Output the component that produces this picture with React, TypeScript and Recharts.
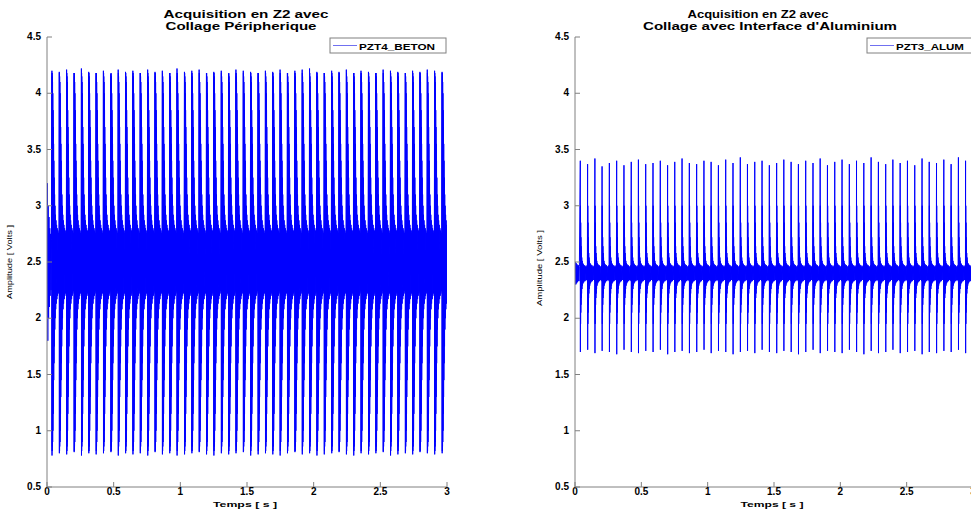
import { LineChart, Line, XAxis, YAxis } from "recharts";

// ---- data ----
const xTicks = [0, 0.5, 1, 1.5, 2, 2.5, 3];
const yTicks = [0.5, 1, 1.5, 2, 2.5, 3, 3.5, 4, 4.5];

// left panel: PZT4_BETON
const betonPulseT = [
  0.037, 0.092, 0.147, 0.203, 0.258, 0.313, 0.368, 0.423, 0.479, 0.534,
  0.589, 0.644, 0.699, 0.755, 0.81, 0.865, 0.92, 0.975, 1.031, 1.086,
  1.141, 1.196, 1.251, 1.307, 1.362, 1.417, 1.472, 1.527, 1.583, 1.638,
  1.693, 1.748, 1.803, 1.859, 1.914, 1.969, 2.024, 2.079, 2.135, 2.19,
  2.245, 2.3, 2.355, 2.411, 2.466, 2.521, 2.576, 2.631, 2.687, 2.742,
  2.797, 2.852, 2.907, 2.963,
];
const betonHigh = [
  4.2, 4.19, 4.21, 4.18, 4.22, 4.19, 4.18, 4.2, 4.17, 4.21,
  4.19, 4.2, 4.18, 4.21, 4.19, 4.2, 4.18, 4.22, 4.19, 4.2,
  4.21, 4.18, 4.19, 4.2, 4.17, 4.21, 4.2, 4.19, 4.18, 4.2,
  4.19, 4.21, 4.18, 4.2, 4.21, 4.22, 4.19, 4.18, 4.2, 4.19,
  4.21, 4.18, 4.2, 4.19, 4.18, 4.21, 4.2, 4.19, 4.18, 4.2,
  4.19, 4.21, 4.2, 4.19,
];
const betonLow = [
  0.78, 0.8, 0.79, 0.81, 0.78, 0.8, 0.79, 0.8, 0.81, 0.78,
  0.8, 0.79, 0.8, 0.78, 0.81, 0.79, 0.8, 0.78, 0.79, 0.8,
  0.81, 0.79, 0.78, 0.8, 0.79, 0.8, 0.81, 0.78, 0.79, 0.8,
  0.79, 0.78, 0.8, 0.81, 0.79, 0.8, 0.78, 0.79, 0.8, 0.81,
  0.79, 0.78, 0.8, 0.79, 0.8, 0.81, 0.78, 0.79, 0.8, 0.79,
  0.81, 0.8, 0.79, 0.8,
];
// ringing after each spike (ms after the spike, volts)
const betonRingMs = [
  0.7, 1.4, 2.1, 2.8, 3.5, 4.5, 5.5, 6.5, 7.5, 8.5, 9.5, 10.5, 11.5, 12.5, 13.5,
  14.5, 15.5, 17, 18.5, 20, 21.5, 23, 24.5, 26.5, 28.5, 30.5, 32.5, 35, 37.5, 40,
  42.5, 45, 47.5, 50, 52.5,
];
const betonRingV = [
  4.18, 0.82, 4.15, 0.86, 4.1, 0.9, 4.0, 1.0, 3.85, 1.15, 3.7, 1.3, 3.55, 1.45,
  3.4, 1.6, 3.25, 1.75, 3.1, 1.9, 3.0, 2.0, 2.92, 2.08, 2.87, 2.13, 2.83, 2.17,
  2.8, 2.2, 2.78, 2.22, 2.76, 2.24,
];
const betonLeadT = [0, 0.003, 0.006, 0.009, 0.012, 0.015, 0.018, 0.021, 0.024, 0.027, 0.03, 0.033];
const betonLeadV = [2.5, 3.2, 1.8, 3.0, 2.0, 2.9, 2.1, 2.8, 2.2, 2.75, 2.25, 2.7];

// right panel: PZT3_ALUM
const alumPulseT = [
  0.04, 0.095, 0.15, 0.204, 0.259, 0.314, 0.369, 0.424, 0.478, 0.533,
  0.588, 0.643, 0.698, 0.752, 0.807, 0.862, 0.917, 0.972, 1.026, 1.081,
  1.136, 1.191, 1.246, 1.3, 1.355, 1.41, 1.465, 1.52, 1.574, 1.629,
  1.684, 1.739, 1.794, 1.848, 1.903, 1.958, 2.013, 2.068, 2.122, 2.177,
  2.232, 2.287, 2.342, 2.396, 2.451, 2.506, 2.561, 2.616, 2.67, 2.725,
  2.78, 2.835, 2.89, 2.944,
];
const alumHigh = [
  3.4, 3.37, 3.42, 3.35, 3.38, 3.4, 3.36, 3.39, 3.41, 3.37,
  3.38, 3.4, 3.36, 3.39, 3.42, 3.38, 3.37, 3.4, 3.39, 3.36,
  3.41, 3.38, 3.43, 3.37, 3.39, 3.4, 3.36, 3.38, 3.41, 3.39,
  3.37, 3.4, 3.38, 3.42, 3.36, 3.39, 3.41, 3.37, 3.4, 3.38,
  3.43, 3.39, 3.37, 3.41, 3.38, 3.4, 3.36, 3.42, 3.39, 3.38,
  3.41, 3.37, 3.43, 3.4,
];
const alumLow = [
  1.7, 1.72, 1.69, 1.71, 1.7, 1.68, 1.72, 1.7, 1.69, 1.71,
  1.7, 1.72, 1.68, 1.7, 1.71, 1.69, 1.7, 1.72, 1.69, 1.71,
  1.7, 1.68, 1.7, 1.71, 1.69, 1.72, 1.7, 1.69, 1.71, 1.7,
  1.68, 1.7, 1.72, 1.69, 1.71, 1.7, 1.69, 1.72, 1.7, 1.68,
  1.71, 1.69, 1.7, 1.72, 1.69, 1.7, 1.71, 1.68, 1.7, 1.69,
  1.71, 1.7, 1.72, 1.69,
];
const alumRingMs = [0.6, 1.5, 2.2, 3, 3.8, 4.6, 5.4, 6.4, 7.4, 8.6, 9.8, 11.2, 12.6, 14.5, 16.5, 18.5, 21, 23.5, 26, 28.5, 31, 33.5, 36, 39, 42, 45, 48, 50.5, 53];
const alumRingV = [3.0, 1.95, 2.85, 2.05, 2.72, 2.12, 2.64, 2.18, 2.58, 2.22, 2.54, 2.26, 2.51, 2.29, 2.49, 2.31, 2.48, 2.32, 2.47, 2.33, 2.47, 2.33, 2.46, 2.34, 2.46, 2.34, 2.47, 2.33];
const alumLeadT = [0, 0.003, 0.006, 0.009, 0.012, 0.015, 0.018, 0.021, 0.024, 0.027, 0.03, 0.033];
const alumLeadV = [2.4, 2.5, 2.3, 2.49, 2.31, 2.48, 2.32, 2.47, 2.33, 2.47, 2.33, 2.46];

type Row = { t: number; v: number };

function buildRows(
  leadT: number[], leadV: number[],
  pulseT: number[], high: number[], low: number[],
  ringMs: number[], ringV: number[],
): Row[] {
  const rows: Row[] = leadT.map((t, i) => ({ t, v: leadV[i] }));
  pulseT.forEach((t, i) => {
    rows.push({ t, v: high[i] });
    rows.push({ t: t + ringMs[0] / 1000, v: low[i] });
    ringV.forEach((v, j) => rows.push({ t: t + ringMs[j + 1] / 1000, v }));
  });
  return rows;
}

const betonRows = buildRows(betonLeadT, betonLeadV, betonPulseT, betonHigh, betonLow, betonRingMs, betonRingV);
const alumRows = buildRows(alumLeadT, alumLeadV, alumPulseT, alumHigh, alumLow, alumRingMs, alumRingV);

const AX = "#808080";
const FONT = "'Liberation Sans', Arial, Helvetica, sans-serif";
const TICK = 5;

const BottomTick = (p: any) => (
  <g>
    <line x1={p.x} y1={p.y} x2={p.x} y2={p.y - TICK} stroke={AX} />
    <text x={p.x} y={p.y + 8} textAnchor="middle" fontSize={10} fontWeight="bold" fontFamily={FONT} fill="#000">
      {String(p.payload.value)}
    </text>
  </g>
);
const TopTick = (p: any) => <line x1={p.x} y1={p.y} x2={p.x} y2={p.y + TICK} stroke={AX} />;
const LeftTick = (p: any) => (
  <g>
    <line x1={p.x} y1={p.y} x2={p.x + TICK} y2={p.y} stroke={AX} />
    <text x={p.x - 6} y={p.y + 3} textAnchor="end" fontSize={10} fontWeight="bold" fontFamily={FONT} fill="#000">
      {String(p.payload.value)}
    </text>
  </g>
);
const RightTick = (p: any) => <line x1={p.x} y1={p.y} x2={p.x - TICK} y2={p.y} stroke={AX} />;

function Panel({ rows, left, width, marginLeft, marginRight }: { rows: Row[]; left: number; width: number; marginLeft: number; marginRight: number }) {
  return (
    <div style={{ position: "absolute", left, top: 0 }}>
      <LineChart width={width} height={509} data={rows} margin={{ top: 37, right: marginRight, bottom: 0, left: marginLeft }}>
        <XAxis xAxisId="b" dataKey="t" type="number" domain={[0, 3]} ticks={xTicks} allowDataOverflow interval={0}
          height={22} tickSize={0} tickMargin={0} tick={BottomTick} axisLine={{ stroke: AX }} />
        <XAxis xAxisId="t" orientation="top" type="number" domain={[0, 3]} ticks={xTicks} interval={0}
          height={0} tickSize={0} tickMargin={0} tick={TopTick} axisLine={{ stroke: AX }} />
        <YAxis yAxisId="l" type="number" domain={[0.5, 4.5]} ticks={yTicks} interval={0} allowDataOverflow
          width={40} tickSize={0} tickMargin={0} tick={LeftTick} axisLine={{ stroke: AX }} />
        <YAxis yAxisId="r" orientation="right" type="number" domain={[0.5, 4.5]} ticks={yTicks} interval={0}
          width={0} tickSize={0} tickMargin={0} tick={RightTick} axisLine={{ stroke: AX }} />
        <Line xAxisId="b" yAxisId="l" dataKey="v" type="linear" stroke="#0000ff" strokeWidth={1} dot={false} isAnimationActive={false} />
      </LineChart>
    </div>
  );
}

function Legend({ x, y, w, label, textLen }: { x: number; y: number; w: number; label: string; textLen: number }) {
  return (
    <g>
      <rect x={x} y={y} width={w} height={15} fill="#fff" stroke={AX} />
      <line x1={x + 3} y1={y + 7.5} x2={x + 27} y2={y + 7.5} stroke="#7070f0" strokeWidth={1} />
      <text x={x + 29} y={y + 11.5} fontSize={9} fontWeight="bold" fontFamily={FONT} textLength={textLen} lengthAdjust="spacingAndGlyphs">
        {label}
      </text>
    </g>
  );
}

function Texts() {
  const title = { fontSize: 11, fontWeight: "bold" as const, fontFamily: FONT, textAnchor: "middle" as const, fill: "#000" };
  const small = { fontSize: 8, fontFamily: FONT, textAnchor: "middle" as const, fill: "#000" };
  return (
    <svg width={971} height={509} style={{ position: "absolute", left: 0, top: 0, pointerEvents: "none" }}>
      <text x={246} y={18} {...title} textLength={165} lengthAdjust="spacingAndGlyphs">Acquisition en Z2 avec</text>
      <text x={241} y={30} {...title} textLength={151} lengthAdjust="spacingAndGlyphs">Collage Péripherique</text>
      <text x={758} y={18} {...title} textLength={141} lengthAdjust="spacingAndGlyphs">Acquisition en Z2 avec</text>
      <text x={770} y={30} {...title} textLength={254} lengthAdjust="spacingAndGlyphs">Collage avec Interface d'Aluminium</text>

      <text x={245} y={507} {...small} fontWeight="bold" textLength={64} lengthAdjust="spacingAndGlyphs">Temps [ s ]</text>
      <text x={772} y={507} {...small} fontWeight="bold" textLength={63} lengthAdjust="spacingAndGlyphs">Temps [ s ]</text>

      <text x={0} y={0} {...small} transform="translate(12,262) rotate(-90)" textLength={74} lengthAdjust="spacingAndGlyphs">Amplitude [ Volts ]</text>
      <text x={0} y={0} {...small} transform="translate(542,268) rotate(-90)" textLength={76} lengthAdjust="spacingAndGlyphs">Amplitude [ Volts ]</text>

      <Legend x={330} y={38} w={116} label="PZT4_BETON" textLen={76} />
      <Legend x={867} y={38} w={107} label="PZT3_ALUM" textLen={68} />
    </svg>
  );
}

export default function App() {
  return (
    <div style={{ position: "fixed", left: 0, top: 0, width: 971, height: 509, overflow: "hidden", background: "#fff" }}>
      <Panel rows={betonRows} left={0} width={460} marginLeft={7} marginRight={13} />
      <Panel rows={alumRows} left={490} width={490} marginLeft={45} marginRight={7} />
      <Texts />
    </div>
  );
}
